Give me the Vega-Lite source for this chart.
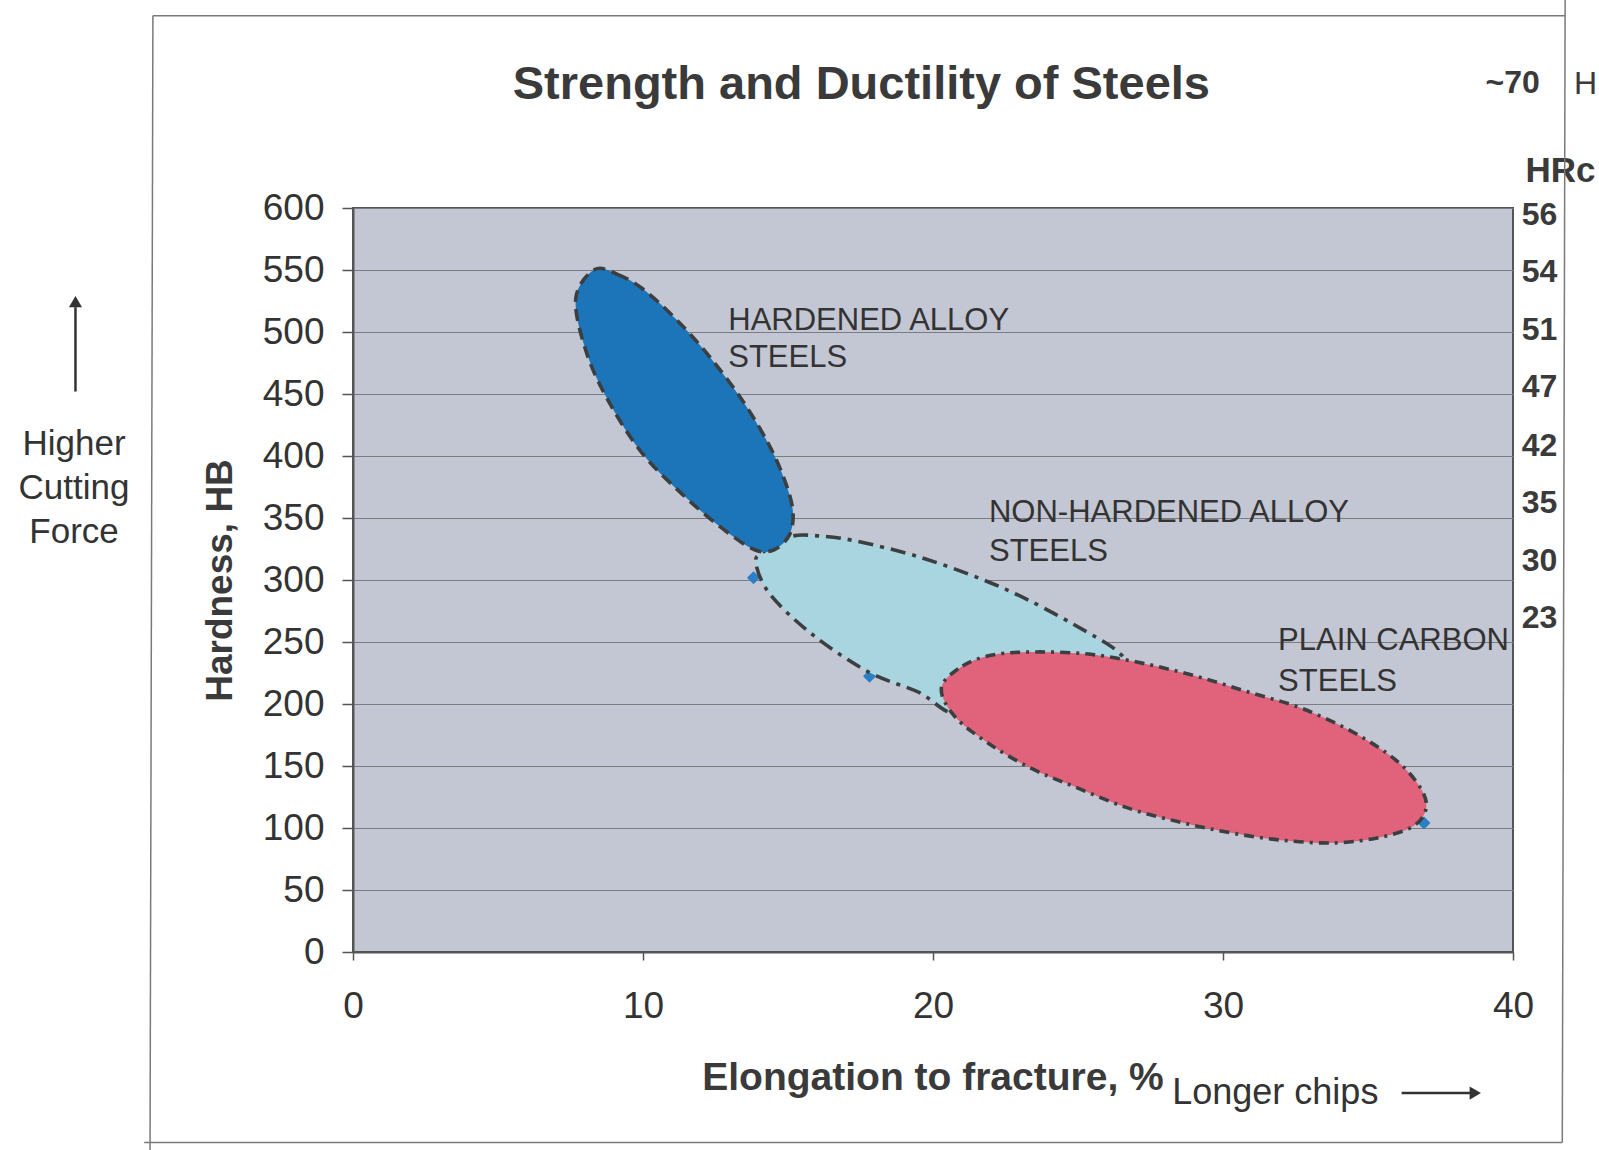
{
  "$schema": "https://vega.github.io/schema/vega-lite/v6.json",
  "width": 1160,
  "height": 744,
  "autosize": {"type": "none"},
  "padding": {"left": 353, "top": 208, "right": 86, "bottom": 198},
  "background": "white",
  "config": {
    "view": {"fill": "#c3c7d3", "stroke": "#555555", "strokeWidth": 2},
    "font": "Liberation Sans"
  },
  "datasets": {
    "hard": [
      {"i": 1, "x": 8.32, "hb": 550.2}, {"i": 2, "x": 9.12, "hb": 546.5}, {"i": 3, "x": 10.03, "hb": 534.1},
      {"i": 4, "x": 11.17, "hb": 509.6}, {"i": 5, "x": 12.31, "hb": 479.7}, {"i": 6, "x": 13.44, "hb": 444.4},
      {"i": 7, "x": 14.34, "hb": 409.2}, {"i": 8, "x": 14.9, "hb": 379.5}, {"i": 9, "x": 15.17, "hb": 355.2},
      {"i": 10, "x": 15.05, "hb": 336.4}, {"i": 11, "x": 14.52, "hb": 324.4}, {"i": 12, "x": 13.83, "hb": 324.6},
      {"i": 13, "x": 12.69, "hb": 342.4}, {"i": 14, "x": 11.33, "hb": 369.7}, {"i": 15, "x": 9.97, "hb": 402.3},
      {"i": 16, "x": 8.84, "hb": 443.0}, {"i": 17, "x": 8.05, "hb": 483.5}, {"i": 18, "x": 7.68, "hb": 526.7}
    ],
    "nonhard": [
      {"i": 1, "x": 13.89, "hb": 313.9}, {"i": 2, "x": 14.18, "hb": 323.2}, {"i": 3, "x": 15.1, "hb": 335.1},
      {"i": 4, "x": 16.03, "hb": 335.6}, {"i": 5, "x": 17.29, "hb": 331.7}, {"i": 6, "x": 19.47, "hb": 319.0},
      {"i": 7, "x": 21.64, "hb": 301.0}, {"i": 8, "x": 23.36, "hb": 283.0}, {"i": 9, "x": 25.3, "hb": 258.2},
      {"i": 10, "x": 26.32, "hb": 243.2}, {"i": 11, "x": 26.6, "hb": 231.0}, {"i": 12, "x": 25.73, "hb": 209.8},
      {"i": 13, "x": 24.0, "hb": 191.5}, {"i": 14, "x": 22.39, "hb": 186.5}, {"i": 15, "x": 20.66, "hb": 192.3},
      {"i": 16, "x": 19.52, "hb": 209.3}, {"i": 17, "x": 17.81, "hb": 225.4}, {"i": 18, "x": 15.87, "hb": 255.5},
      {"i": 19, "x": 14.39, "hb": 288.2}
    ],
    "plain": [
      {"i": 1, "x": 20.29, "hb": 213.1}, {"i": 2, "x": 21.02, "hb": 230.6}, {"i": 3, "x": 22.1, "hb": 239.8},
      {"i": 4, "x": 23.68, "hb": 242.0}, {"i": 5, "x": 25.49, "hb": 239.9}, {"i": 6, "x": 27.3, "hb": 232.5},
      {"i": 7, "x": 29.11, "hb": 222.2}, {"i": 8, "x": 30.93, "hb": 209.3}, {"i": 9, "x": 32.74, "hb": 196.3},
      {"i": 10, "x": 34.54, "hb": 176.6}, {"i": 11, "x": 35.99, "hb": 154.2}, {"i": 12, "x": 36.82, "hb": 132.0},
      {"i": 13, "x": 37.0, "hb": 115.5}, {"i": 14, "x": 36.57, "hb": 101.6}, {"i": 15, "x": 35.48, "hb": 92.8},
      {"i": 16, "x": 33.9, "hb": 88.0}, {"i": 17, "x": 32.09, "hb": 90.0}, {"i": 18, "x": 30.27, "hb": 96.1},
      {"i": 19, "x": 28.47, "hb": 105.0}, {"i": 20, "x": 26.66, "hb": 116.6}, {"i": 21, "x": 24.85, "hb": 133.6},
      {"i": 22, "x": 23.41, "hb": 147.8}, {"i": 23, "x": 21.97, "hb": 167.4}, {"i": 24, "x": 20.76, "hb": 189.7}
    ],
    "points": [
      {"x": 13.81, "hb": 301.8}, {"x": 17.81, "hb": 222.4}, {"x": 36.93, "hb": 104.0}
    ],
    "regionLabels": [
      {"x": 12.94, "hb": 501.3, "t": "HARDENED ALLOY"},
      {"x": 12.94, "hb": 471.5, "t": "STEELS"},
      {"x": 21.93, "hb": 346.5, "t": "NON-HARDENED ALLOY"},
      {"x": 21.93, "hb": 315.6, "t": "STEELS"},
      {"x": 31.9, "hb": 243.2, "t": "PLAIN CARBON"},
      {"x": 31.9, "hb": 210.7, "t": "STEELS"}
    ],
    "hrc": [
      {"x": 40.3, "hb": 594.3, "t": "56"}, {"x": 40.3, "hb": 548.4, "t": "54"},
      {"x": 40.3, "hb": 501.6, "t": "51"}, {"x": 40.3, "hb": 455.6, "t": "47"},
      {"x": 40.3, "hb": 408.0, "t": "42"}, {"x": 40.3, "hb": 362.1, "t": "35"},
      {"x": 40.3, "hb": 315.3, "t": "30"}, {"x": 40.3, "hb": 269.3, "t": "23"}
    ],
    "frame": [
      {"x": -6.9, "hb": 755, "x2": 41.8, "hb2": 755},
      {"x": -6.9, "hb": 755, "x2": -7.0, "hb2": -170},
      {"x": 41.8, "hb": 790, "x2": 41.7, "hb2": -153.6},
      {"x": -7.2, "hb": -153.6, "x2": 41.7, "hb2": -153.6}
    ],
    "arrowLines": [
      {"x": -9.57, "hb": 452, "x2": -9.57, "hb2": 520},
      {"x": 36.16, "hb": -113.8, "x2": 38.6, "hb2": -113.8}
    ]
  },
  "encoding": {
    "x": {
      "field": "x", "type": "quantitative",
      "scale": {"domain": [0, 40], "nice": false, "zero": false},
      "axis": {
        "title": "Elongation to fracture, %",
        "values": [0, 10, 20, 30, 40],
        "grid": false,
        "labelFont": "Liberation Sans", "labelFontSize": 37, "labelColor": "#333333",
        "labelPadding": 28, "labelFlush": false, "labelOverlap": false,
        "tickSize": 8, "tickColor": "#555555", "tickWidth": 1.5,
        "domainColor": "#555555", "domainWidth": 2,
        "titleFont": "Liberation Sans", "titleFontSize": 39, "titleFontWeight": "bold", "titleColor": "#3a3a3a",
        "titleX": 579.5, "titleY": 137, "titleAlign": "center", "titleBaseline": "alphabetic"
      }
    },
    "y": {
      "field": "hb", "type": "quantitative",
      "scale": {"domain": [0, 600], "nice": false, "zero": false},
      "axis": {
        "title": "Hardness, HB",
        "values": [0, 50, 100, 150, 200, 250, 300, 350, 400, 450, 500, 550, 600],
        "grid": true, "gridColor": "#7a7c82", "gridWidth": 1,
        "labelFont": "Liberation Sans", "labelFontSize": 37, "labelColor": "#333333",
        "labelPadding": 18, "labelOverlap": false, "labelFlush": false,
        "tickSize": 11, "tickColor": "#555555", "tickWidth": 1.5,
        "domainColor": "#555555", "domainWidth": 2,
        "titleFont": "Liberation Sans", "titleFontSize": 37, "titleFontWeight": "bold", "titleColor": "#3a3a3a",
        "titleX": -132.5, "titleY": 372, "titleAngle": -90, "titleAlign": "center", "titleBaseline": "middle"
      }
    }
  },
  "layer": [
    {
      "data": {"name": "points"},
      "mark": {"type": "point", "shape": "diamond", "filled": true, "size": 170, "color": "#2b7fc5", "opacity": 1}
    },
    {
      "data": {"name": "nonhard"},
      "mark": {"type": "line", "interpolate": "cardinal-closed", "fill": "#a9d5e1", "stroke": "#3c3f40", "strokeWidth": 3.6, "strokeDash": [15, 7, 4, 7]},
      "encoding": {"order": {"field": "i", "type": "quantitative"}}
    },
    {
      "data": {"name": "hard"},
      "mark": {"type": "line", "interpolate": "cardinal-closed", "fill": "#1c74b9", "stroke": "#3c3f40", "strokeWidth": 3.6, "strokeDash": [12, 7]},
      "encoding": {"order": {"field": "i", "type": "quantitative"}}
    },
    {
      "data": {"name": "plain"},
      "mark": {"type": "line", "interpolate": "cardinal-closed", "fill": "#e0627b", "stroke": "#3c3f40", "strokeWidth": 3.6, "strokeDash": [10, 6, 3, 6]},
      "encoding": {"order": {"field": "i", "type": "quantitative"}}
    },
    {
      "data": {"name": "regionLabels"},
      "mark": {"type": "text", "align": "left", "baseline": "alphabetic", "font": "Liberation Sans", "fontSize": 31, "color": "#333333"},
      "encoding": {"text": {"field": "t"}}
    },
    {
      "data": {"name": "hrc"},
      "mark": {"type": "text", "align": "left", "baseline": "middle", "font": "Liberation Sans", "fontSize": 32, "fontWeight": "bold", "color": "#3a3a3a"},
      "encoding": {"text": {"field": "t"}}
    },
    {
      "data": {"values": [{"x": 40.43, "hb": 629.8, "t": "HRc"}]},
      "mark": {"type": "text", "align": "left", "baseline": "middle", "font": "Liberation Sans", "fontSize": 35, "fontWeight": "bold", "color": "#3a3a3a"},
      "encoding": {"text": {"field": "t"}}
    },
    {
      "data": {"values": [{"x": 41.05, "hb": 700.6, "t": "~70"}]},
      "mark": {"type": "text", "align": "left", "baseline": "middle", "font": "Liberation Sans", "fontSize": 32, "fontWeight": "bold", "color": "#3a3a3a", "dx": -58},
      "encoding": {"text": {"field": "t"}}
    },
    {
      "data": {"values": [{"x": 42.1, "hb": 700.2, "t": "H"}]},
      "mark": {"type": "text", "align": "left", "baseline": "middle", "font": "Liberation Sans", "fontSize": 32, "color": "#3a3a3a"},
      "encoding": {"text": {"field": "t"}}
    },
    {
      "data": {"values": [{"x": 17.53, "hb": 687.9, "t": "Strength and Ductility of Steels"}]},
      "mark": {"type": "text", "align": "center", "baseline": "alphabetic", "font": "Liberation Sans", "fontSize": 47, "fontWeight": "bold", "color": "#3a3a3a"},
      "encoding": {"text": {"field": "t"}}
    },
    {
      "data": {"values": [
        {"x": -9.62, "hb": 401.2, "t": "Higher"},
        {"x": -9.62, "hb": 365.7, "t": "Cutting"},
        {"x": -9.62, "hb": 330.2, "t": "Force"}
      ]},
      "mark": {"type": "text", "align": "center", "baseline": "alphabetic", "font": "Liberation Sans", "fontSize": 35, "color": "#333333"},
      "encoding": {"text": {"field": "t"}}
    },
    {
      "data": {"values": [{"x": 28.25, "hb": -122.5, "t": "Longer chips"}]},
      "mark": {"type": "text", "align": "left", "baseline": "alphabetic", "font": "Liberation Sans", "fontSize": 36, "color": "#333333"},
      "encoding": {"text": {"field": "t"}}
    },
    {
      "data": {"name": "arrowLines"},
      "mark": {"type": "rule", "color": "#333333", "strokeWidth": 2.5},
      "encoding": {"x2": {"field": "x2"}, "y2": {"field": "hb2"}}
    },
    {
      "data": {"values": [{"x": -9.57, "hb": 524.5}]},
      "mark": {"type": "point", "shape": "triangle-up", "filled": true, "size": 170, "color": "#333333", "opacity": 1}
    },
    {
      "data": {"values": [{"x": 38.7, "hb": -113.8}]},
      "mark": {"type": "point", "shape": "triangle-right", "filled": true, "size": 170, "color": "#333333", "opacity": 1}
    },
    {
      "data": {"name": "frame"},
      "mark": {"type": "rule", "color": "#7a7a7a", "strokeWidth": 1.5},
      "encoding": {"x2": {"field": "x2"}, "y2": {"field": "hb2"}}
    }
  ]
}
